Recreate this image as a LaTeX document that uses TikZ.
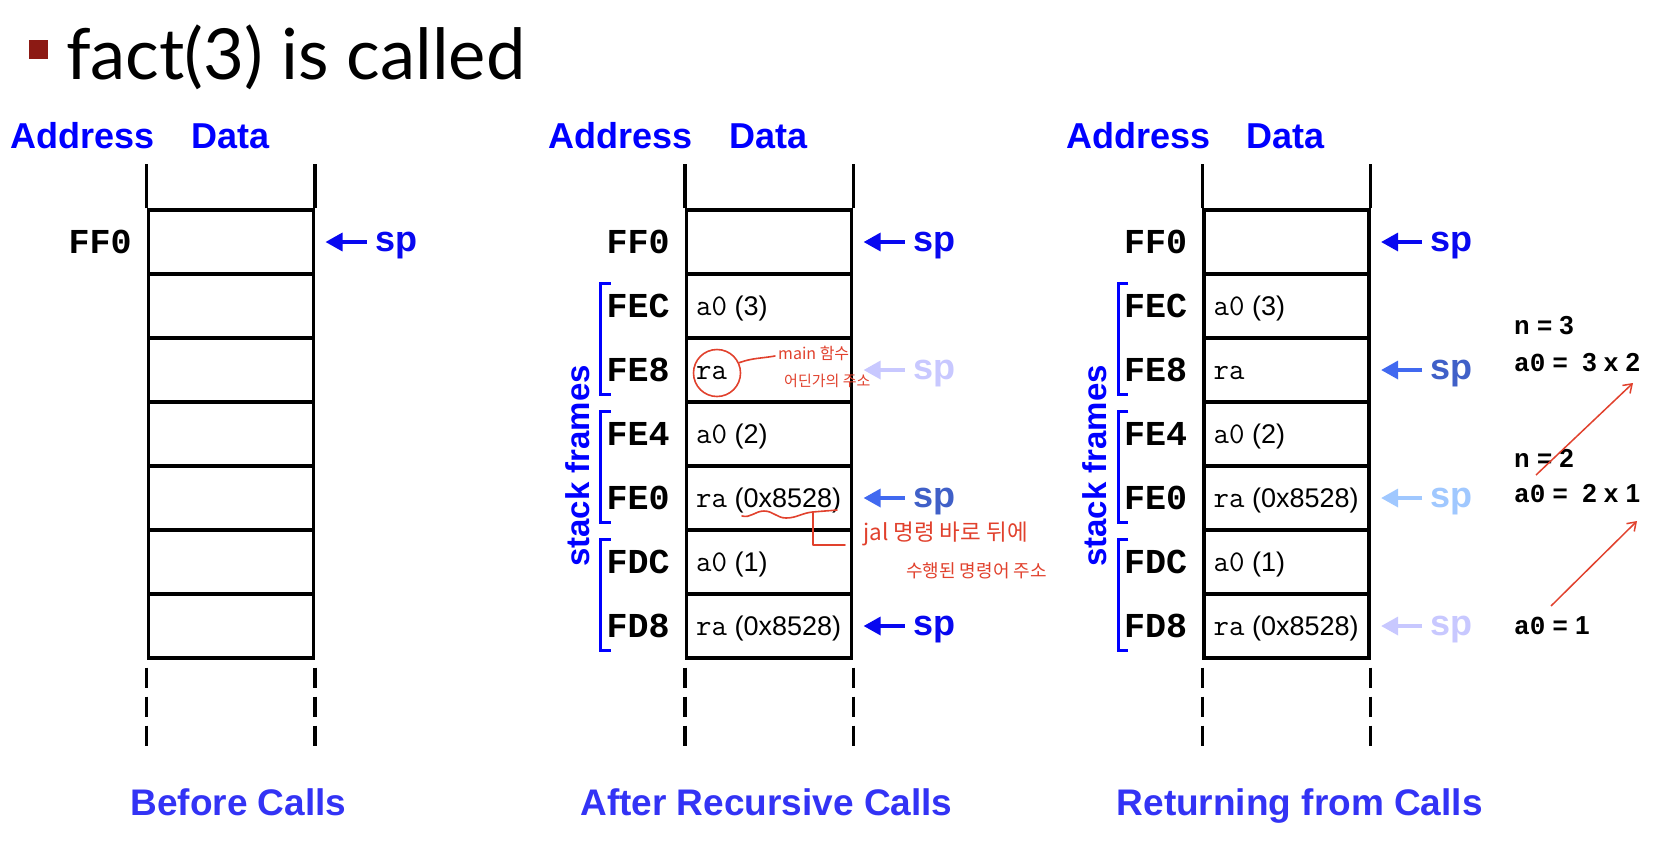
\documentclass[tikz,border=0pt]{standalone}
\usepackage{fontspec}
\setmainfont{Liberation Sans}
\newfontfamily\monob{Liberation Mono}
\newfontfamily\titlef{Lato}
\newfontfamily\kr{Noto Sans CJK KR}
\usetikzlibrary{arrows.meta,calc}
\definecolor{hblue}{RGB}{0,0,255}
\definecolor{spblue}{RGB}{8,8,240}
\definecolor{royalA}{RGB}{65,105,240}
\definecolor{royalT}{RGB}{64,96,200}
\definecolor{lightB}{RGB}{160,200,255}
\definecolor{lavB}{RGB}{200,200,255}
\definecolor{botblue}{RGB}{51,51,245}
\definecolor{redann}{RGB}{225,65,45}
\definecolor{titlered}{RGB}{140,26,20}
\newcommand\cmono{\ttfamily\fontsize{30}{32}\selectfont}
\newcommand\amono{\monob\bfseries\fontsize{26}{28}\selectfont}
\newcommand\sparrowat[4]{%
  \node[sptext, text=#4] (#2) at ($(#1.east)+(60,9.4)$) {sp};
  \draw[sparrow, draw=#3] ([xshift=-8.5pt]#2.west |- #1.east) -- ([xshift=10.5pt]#1.east);
}
\begin{document}
\begin{tikzpicture}[x=1pt,y=-1pt,
  hdr/.style={font=\bfseries\fontsize{36}{40}\selectfont, text=hblue, anchor=base west, inner sep=0},
  cell/.style={draw, line width=3.2pt, minimum width=165pt, minimum height=64pt, inner sep=0},
  stackline/.style={line width=3.2pt},
  dashline/.style={line width=3.2pt, dash pattern=on 20pt off 9pt},
  addr/.style={font=\monob\bfseries\fontsize{35}{38}\selectfont, anchor=east, inner sep=0},
  content/.style={font=\fontsize{27}{30}\selectfont, anchor=base west, inner sep=0},
  sptext/.style={font=\bfseries\fontsize{36}{40}\selectfont, anchor=base west, inner sep=0},
  sparrow/.style={line width=3.4pt, -{Triangle[length=17pt,width=18pt]}},
  bracket/.style={draw=hblue, line width=3pt},
  sf/.style={font=\bfseries\fontsize{33}{36}\selectfont, text=hblue, rotate=90, inner sep=0},
  note/.style={font=\kr, text=redann, anchor=west, inner sep=0},
  redline/.style={draw=redann, line width=1.6pt, line cap=round, line join=round},
  ann/.style={font=\bfseries\fontsize{26}{28}\selectfont, anchor=west, inner sep=0},
  redarrow/.style={draw=redann, line width=1.5pt, -{Straight Barb[length=8pt,width=11pt]}},
  botlbl/.style={font=\bfseries\fontsize{37}{40}\selectfont, text=botblue, anchor=base, inner sep=0}
]
\useasboundingbox (0,0) rectangle (1662,847);
\fill[white] (0,0) rectangle (1662,847);

% title
\node[fill=titlered, minimum size=19pt, inner sep=0] (bullet) at (38.2,49.5) {};
\node[anchor=base west, inner sep=0, font=\titlef\fontsize{70.5}{74}\selectfont] (title) at (66,79.5) {fact(3) is called};

% headers
\node[hdr] (Ah) at (10.6,148) {Address};
\node[hdr] (Ad) at (191,148) {Data};
\node[hdr] (Bh) at (548.7,148) {Address};
\node[hdr] (Bd) at (729.1,148) {Data};
\node[hdr] (Ch) at (1066.2,148) {Address};
\node[hdr] (Cd) at (1246.6,148) {Data};

% stacks
\foreach \c/\L in {A/148.4, B/686.5, C/1204} {
  \foreach \i in {1,...,7} {
    \node[cell] (\c\i) at ({\L+82.5},{242+64*(\i-1)}) {};
  }
  \draw[stackline] (\c1.north west) -- ++(0,-44);
  \draw[stackline] (\c1.north east) -- ++(0,-44);
  \draw[dashline] ([yshift=-8pt]\c7.south west) -- ++(0,79);
  \draw[dashline] ([yshift=-8pt]\c7.south east) -- ++(0,79);
}

% addresses and contents
\node[addr] (Aa1) at ([xshift=-15pt]A1.west) {FF0};
\foreach \c in {B,C} {
  \foreach \i/\t in {1/FF0,2/FEC,3/FE8,4/FE4,5/FE0,6/FDC,7/FD8} {
    \node[addr] (\c a\i) at ([xshift=-15pt]\c\i.west) {\t};
  }
  \node[content] (\c2t) at ($(\c2.west)+(11,9.7)$) {{\cmono a0} (3)};
  \node[content] (\c3t) at ($(\c3.west)+(11,9.7)$) {{\cmono ra}};
  \node[content] (\c4t) at ($(\c4.west)+(11,9.7)$) {{\cmono a0} (2)};
  \node[content] (\c5t) at ($(\c5.west)+(11,9.7)$) {{\cmono ra} (0x8528)};
  \node[content] (\c6t) at ($(\c6.west)+(11,9.7)$) {{\cmono a0} (1)};
  \node[content] (\c7t) at ($(\c7.west)+(11,9.7)$) {{\cmono ra} (0x8528)};
  \draw[bracket] ([xshift=-74pt,yshift=-11pt]\c2.north west) -- ++(-10,0) |- ([xshift=-74pt,yshift=9pt]\c3.south west);
  \draw[bracket] ([xshift=-74pt,yshift=-11pt]\c4.north west) -- ++(-10,0) |- ([xshift=-74pt,yshift=9pt]\c5.south west);
  \draw[bracket] ([xshift=-74pt,yshift=-11pt]\c6.north west) -- ++(-10,0) |- ([xshift=-74pt,yshift=9pt]\c7.south west);
}
\node[sf] (Bsf) at (577.5,466) {stack frames};
\node[sf] (Csf) at (1095,466) {stack frames};

% sp arrows
\sparrowat{A1}{Asp1}{spblue}{spblue}
\sparrowat{B1}{Bsp1}{spblue}{spblue}
\sparrowat{B3}{Bsp3}{lavB}{lavB}
\sparrowat{B5}{Bsp5}{royalA}{royalT}
\sparrowat{B7}{Bsp7}{spblue}{spblue}
\sparrowat{C1}{Csp1}{spblue}{spblue}
\sparrowat{C3}{Csp3}{royalA}{royalT}
\sparrowat{C5}{Csp5}{lightB}{lightB}
\sparrowat{C7}{Csp7}{lavB}{lavB}

% handwritten-style notes
\node[draw=redann, circle, line width=1.6pt, minimum size=47pt, inner sep=0] (rac) at (717,373) {};
\node[note, font=\kr\fontsize{16}{18}\selectfont] (mn1) at (778,353) {main 함수};
\node[note, font=\kr\fontsize{15}{17}\selectfont] (mn2) at (784,381) {어딘가의 주소};
\draw[redline] (rac.25) to[out=20,in=190] ([xshift=-3pt,yshift=-3pt]mn1.west);
\node[note, font=\kr\fontsize{22.5}{24}\selectfont] (jn1) at (863,534) {jal 명령 바로 뒤에};
\node[note, font=\kr\fontsize{18}{20}\selectfont] (jn2) at (906,571) {수행된 명령어 주소};
\coordinate (sq1) at (742,516);
\coordinate (sq2) at (812.7,512);
\draw[redline] (sq1) to[out=-15,in=180] (764,511) to[out=0,in=180] (786,518) to[out=0,in=185] (sq2) to[out=5,in=185] (837,510);
\draw[redline] (sq2) -- ++(0,33) -- ([xshift=-18pt,yshift=-11pt]jn1.west);

% right annotations
\node[ann] (n3) at (1514,325.4) {{\amono n} = 3};
\node[ann] (v3) at (1514,362.5) {{\amono a0} = ~3 x 2};
\node[ann] (n2) at (1514,458) {{\amono n} = 2};
\node[ann] (v2) at (1514,494) {{\amono a0} = ~2 x 1};
\node[ann] (v1) at (1514,626) {{\amono a0} = 1};
\coordinate (r1s) at (1536,475);
\coordinate (r1e) at (1633,383);
\coordinate (r2s) at (1551,606);
\coordinate (r2e) at (1637,521);
\draw[redarrow] (r1s) -- (r1e);
\draw[redarrow] (r2s) -- (r2e);

% bottom labels
\node[botlbl] (Abot) at (238.4,815) {Before Calls};
\node[botlbl] (Bbot) at (766.4,815) {After Recursive Calls};
\node[botlbl] (Cbot) at (1299.7,815) {Returning from Calls};
\end{tikzpicture}
\end{document}
